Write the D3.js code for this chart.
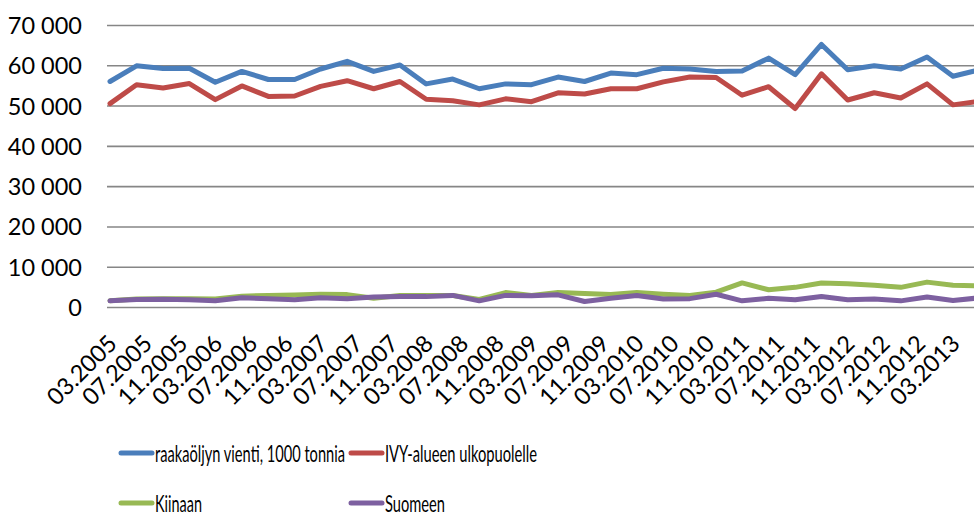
<!DOCTYPE html>
<html>
<head>
<meta charset="utf-8">
<script src="https://cdn.jsdelivr.net/npm/d3@7"></script>
<style>
    body { margin: 0; background: #fff; }
    text { font-family: Lato, "Open Sans", sans-serif; fill: #000; }
</style>
</head>
<body>
<svg id="chart"></svg>
<script>
// quarterly observations, 03.2005 .. 06.2013
let months = [
    "03.2005", "06.2005", "09.2005", "12.2005", "03.2006", "06.2006", "09.2006", "12.2006",
    "03.2007", "06.2007", "09.2007", "12.2007", "03.2008", "06.2008", "09.2008", "12.2008",
    "03.2009", "06.2009", "09.2009", "12.2009", "03.2010", "06.2010", "09.2010", "12.2010",
    "03.2011", "06.2011", "09.2011", "12.2011", "03.2012", "06.2012", "09.2012", "12.2012",
    "03.2013", "06.2013"
];

let tickLabels = [
    "03.2005", "07.2005", "11.2005", "03.2006", "07.2006", "11.2006", "03.2007", "07.2007",
    "11.2007", "03.2008", "07.2008", "11.2008", "03.2009", "07.2009", "11.2009", "03.2010",
    "07.2010", "11.2010", "03.2011", "07.2011", "11.2011", "03.2012", "07.2012", "11.2012",
    "03.2013"
];

let yTicks = [0, 10000, 20000, 30000, 40000, 50000, 60000, 70000];

let seriesNames = ["raakaöljyn vienti, 1000 tonnia", "IVY-alueen ulkopuolelle", "Kiinaan", "Suomeen"];

let vienti = [56100, 60000, 59300, 59400, 55900, 58600, 56600, 56600, 59200, 61100, 58600, 60200,
    55500, 56700, 54300, 55500, 55300, 57200, 56100, 58200, 57800, 59400, 59200, 58600,
    58700, 61900, 57800, 65300, 59000, 60000, 59200, 62200, 57400, 59000];

let ivy = [50600, 55300, 54500, 55600, 51600, 55000, 52400, 52500, 54900, 56300, 54300, 56100,
    51700, 51300, 50300, 51800, 51100, 53300, 53000, 54300, 54300, 56000, 57200, 57100,
    52700, 54800, 49400, 58000, 51500, 53300, 52000, 55500, 50300, 51200];

let kiinaan = [1700, 2100, 2200, 2200, 2100, 2800, 3000, 3100, 3300, 3200, 2300, 3000,
    3000, 3000, 2000, 3700, 3000, 3700, 3500, 3200, 3700, 3300, 3000, 3800,
    6100, 4400, 5000, 6100, 5900, 5500, 5000, 6300, 5500, 5400];

let suomeen = [1650, 2000, 2050, 1950, 1650, 2400, 2200, 1900, 2400, 2200, 2600, 2700,
    2700, 3000, 1650, 3000, 2900, 3150, 1500, 2300, 3000, 2100, 2200, 3300,
    1650, 2300, 1900, 2750, 1900, 2100, 1650, 2600, 1750, 2400];

let colors = ["#4a7ebb", "#be4b48", "#98b954", "#7d60a0"];

let width = 974;
let height = 513;

let svg = d3.select("#chart")
    .attr("width", width)
    .attr("height", height);

let parse = d3.timeParse("%m.%Y");
let dates = months.map(parse);

// date axis: 03.2005 -> 03.2013 spans the labelled part, the last quarter runs off the edge
let x = d3.scaleTime()
    .domain([parse("03.2005"), parse("03.2013")])
    .range([110, 953]);

let y = d3.scaleLinear()
    .domain([0, 70000])
    .range([307.5, 25.5]);

let fmt = v => d3.format(",")(v).replace(/,/g, " ");

// horizontal gridlines
svg.append("g")
    .selectAll("line")
    .data(yTicks)
    .enter().append("line")
    .attr("x1", 107)
    .attr("x2", width)
    .attr("y1", d => y(d))
    .attr("y2", d => y(d))
    .attr("stroke", "#868686")
    .attr("stroke-width", 1.6);

// y labels
svg.append("g")
    .selectAll("text")
    .data(yTicks)
    .enter().append("text")
    .attr("x", 82)
    .attr("y", d => y(d))
    .attr("dy", "0.36em")
    .attr("text-anchor", "end")
    .style("font-size", "23.5px")
    .text(d => fmt(d));

// x axis labels, rotated
let xAxis = d3.axisBottom(x)
    .tickValues(tickLabels.map(parse))
    .tickSize(0)
    .tickFormat(d3.timeFormat("%m.%Y"));

let axisG = svg.append("g")
    .call(xAxis);
axisG.select(".domain").remove();
axisG.selectAll("text")
    .attr("x", 0)
    .attr("y", 0)
    .attr("dy", "0.36em")
    .attr("text-anchor", "end")
    .attr("fill", "#000")
    .style("font-size", "23.5px")
    .style("font-family", "Lato, sans-serif")
    .attr("transform", "translate(2,339) rotate(-45)");

// the lines
let allSeries = [vienti, ivy, kiinaan, suomeen];
let line = d3.line()
    .x((d, i) => x(dates[i]))
    .y(d => y(d));

svg.append("g")
    .selectAll("path")
    .data(allSeries)
    .enter().append("path")
    .attr("d", d => line(d))
    .attr("fill", "none")
    .attr("stroke", (d, i) => colors[i])
    .attr("stroke-width", 5)
    .attr("stroke-linejoin", "round")
    .attr("stroke-linecap", "round");

// legend, two rows of two
let legendPos = [
    { x: 120, y: 453, w: 190 },
    { x: 350, y: 453, w: 152 },
    { x: 120, y: 503, w: 47 },
    { x: 350, y: 503, w: 60 }
];

let legend = svg.append("g")
    .selectAll("g")
    .data(seriesNames)
    .enter().append("g")
    .attr("transform", (d, i) => `translate(${legendPos[i].x},${legendPos[i].y})`);

legend.append("line")
    .attr("x1", 1)
    .attr("x2", 32)
    .attr("stroke", (d, i) => colors[i])
    .attr("stroke-width", 5)
    .attr("stroke-linecap", "round");

legend.append("text")
    .attr("x", 35)
    .attr("y", 8.5)
    .attr("textLength", (d, i) => legendPos[i].w)
    .attr("lengthAdjust", "spacingAndGlyphs")
    .style("font-size", "23px")
    .text(d => d);
</script>
</body>
</html>
